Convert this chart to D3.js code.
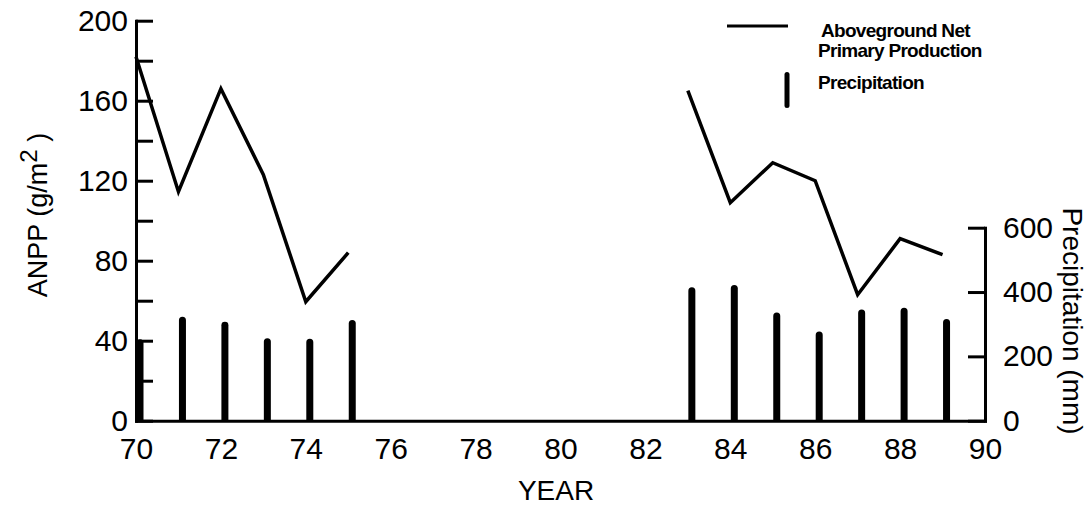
<!DOCTYPE html>
<html>
<head>
<meta charset="utf-8">
<script src="https://cdn.jsdelivr.net/npm/d3@7"></script>
<style>
  body { margin: 0; background: #fff; }
  svg { display: block; font-family: 'Liberation Sans', Arial, Helvetica, sans-serif; }
</style>
</head>
<body>
<div id="chart"></div>
<script>
// data
const years = [70, 71, 72, 73, 74, 75, 83, 84, 85, 86, 87, 88, 89]
const anpp = [182, 114.5, 166, 123, 59.5, 84, 165, 109, 129, 120, 63, 91, 83]
const precipitation = [253, 323, 308, 256, 255, 313, 415, 422, 336, 277, 346, 351, 316]

const yearTicks = [70, 72, 74, 76, 78, 80, 82, 84, 86, 88, 90]
const anppTicks = [0, 20, 40, 60, 80, 100, 120, 140, 160, 180, 200]
const anppLabels = [0, 40, 80, 120, 160, 200]
const precipTicks = [0, 200, 400, 600]

const width = 1088
const height = 506

const svg = d3
  .select('#chart')
  .append('svg')
  .attr('width', width)
  .attr('height', height)

const xPositionScale = d3.scaleLinear().domain([70, 90]).range([136, 985])
const anppScale = d3.scaleLinear().domain([0, 200]).range([420.7, 20.7])
const precipScale = d3.scaleLinear().domain([0, 600]).range([420.7, 227.7])

// precipitation bars (flat bottom, rounded top)
const barHalf = 3.5
const barShift = 4
svg
  .selectAll('.bar')
  .data(years)
  .enter()
  .append('path')
  .attr('class', 'bar')
  .attr('fill', '#000')
  .attr('d', (d, i) => {
    const cx = xPositionScale(d) + barShift
    const top = precipScale(precipitation[i])
    const bottom = precipScale(0)
    return 'M' + (cx - barHalf) + ',' + bottom +
      'V' + (top + barHalf) +
      'A' + barHalf + ',' + barHalf + ' 0 0 1 ' + (cx + barHalf) + ',' + (top + barHalf) +
      'V' + bottom + 'Z'
  })

// ANPP line, broken where years are missing
const points = years.map((d, i) => ({ year: d, value: anpp[i] }))
const segments = []
points.forEach((p, i) => {
  if (i === 0 || p.year !== points[i - 1].year + 1) segments.push([])
  segments[segments.length - 1].push(p)
})

const line = d3
  .line()
  .x(d => xPositionScale(d.year))
  .y(d => anppScale(d.value))

svg
  .selectAll('.anpp')
  .data(segments)
  .enter()
  .append('path')
  .attr('class', 'anpp')
  .attr('d', line)
  .attr('fill', 'none')
  .attr('stroke', '#000')
  .attr('stroke-width', 3.5)
  .attr('stroke-linejoin', 'miter')

// axes
function styleAxis(g, fontSize) {
  g.attr('font-family', null).attr('font-size', fontSize)
  g.selectAll('.domain')
    .attr('stroke-width', 3)
    .attr('stroke-linecap', 'square')
  g.selectAll('.tick line').attr('stroke-width', 3)
  g.selectAll('.tick text').attr('fill', '#000')
}

const yAxisLeft = d3
  .axisLeft(anppScale)
  .tickValues(anppTicks)
  .tickSizeInner(-17)
  .tickSizeOuter(0)
  .tickPadding(8)
  .tickFormat(d => (anppLabels.includes(d) ? d : ''))

svg
  .append('g')
  .attr('class', 'axis y-axis')
  .attr('transform', 'translate(136,0)')
  .call(yAxisLeft)
  .call(g => styleAxis(g, 30))

const xAxis = d3
  .axisBottom(xPositionScale)
  .tickValues(yearTicks)
  .tickSize(0)
  .tickPadding(17)

svg
  .append('g')
  .attr('class', 'axis x-axis')
  .attr('transform', 'translate(0,' + anppScale(0) + ')')
  .call(xAxis)
  .call(g => styleAxis(g, 30))

const yAxisRight = d3
  .axisRight(precipScale)
  .tickValues(precipTicks)
  .tickSizeInner(-17)
  .tickSizeOuter(0)
  .tickPadding(18)

svg
  .append('g')
  .attr('class', 'axis y-axis-right')
  .attr('transform', 'translate(985,0)')
  .call(yAxisRight)
  .call(g => styleAxis(g, 30))

// axis titles
svg
  .append('text')
  .attr('x', 556)
  .attr('y', 500)
  .attr('text-anchor', 'middle')
  .attr('font-size', 28)
  .text('YEAR')

const leftTitle = svg
  .append('text')
  .attr('transform', 'translate(47,215) rotate(-90)')
  .attr('text-anchor', 'middle')
  .attr('font-size', 27)
leftTitle.append('tspan').text('ANPP (g/m')
leftTitle.append('tspan').attr('dy', -10).attr('font-size', 24).text('2')
leftTitle.append('tspan').attr('dy', 10).text(' )')

svg
  .append('text')
  .attr('transform', 'translate(1063,321) rotate(90)')
  .attr('text-anchor', 'middle')
  .attr('font-size', 28)
  .text('Precipitation (mm)')

// legend
const legend = svg.append('g').attr('class', 'legend')

legend
  .append('line')
  .attr('x1', 727)
  .attr('x2', 788)
  .attr('y1', 26)
  .attr('y2', 26)
  .attr('stroke', '#000')
  .attr('stroke-width', 3)

legend
  .append('line')
  .attr('x1', 787)
  .attr('x2', 787)
  .attr('y1', 74.5)
  .attr('y2', 105.5)
  .attr('stroke', '#000')
  .attr('stroke-width', 5)
  .attr('stroke-linecap', 'round')

const legendText = [
  { text: 'Aboveground Net', x: 821, y: 36.5 },
  { text: 'Primary Production', x: 818, y: 56.5 },
  { text: 'Precipitation', x: 818, y: 89 }
]

legend
  .selectAll('.legend-label')
  .data(legendText)
  .enter()
  .append('text')
  .attr('class', 'legend-label')
  .attr('x', d => d.x)
  .attr('y', d => d.y)
  .attr('font-size', 19)
  .attr('font-weight', 'bold')
  .attr('letter-spacing', -0.7)
  .text(d => d.text)
</script>
</body>
</html>
